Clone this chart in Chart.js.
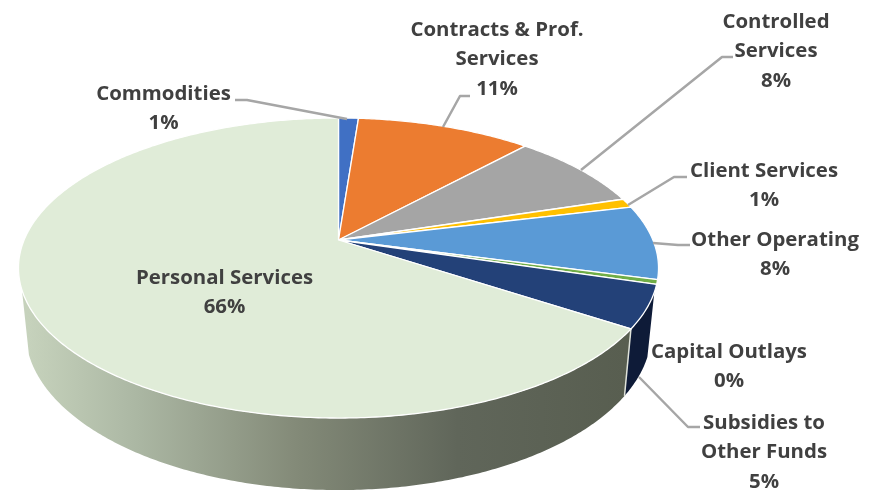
<!DOCTYPE html>
<html><head><meta charset="utf-8">
<style>html,body{margin:0;padding:0;background:#fff}canvas{display:block}</style>
<script src="https://cdn.jsdelivr.net/npm/chart.js@4/dist/chart.umd.js"></script>
</head><body><canvas id="c" width="875" height="490"></canvas>
<script>
const categories = ["Commodities","Contracts & Prof. Services","Controlled Services","Client Services","Other Operating","Capital Outlays","Subsidies to Other Funds","Personal Services"];
const shareValues = [1.2,10.6,8.4,1.0,8.0,0.49,4.6,65.71];
const topColors = ["#4070c4","#ec7c30","#a5a5a5","#ffc000","#5a9ad6","#70ad47","#234178","#e0ecd8"];
const labelLines = [["Commodities"],["Contracts & Prof.","Services"],["Controlled","Services"],["Client Services"],["Other Operating"],["Capital Outlays"],["Subsidies to","Other Funds"],["Personal Services"]];
const labelAnchors = [[163.5,94],[497,30],[776,22],[764,171],[775,240],[729,352],[764,423],[224.5,278]];
const leaders = [
 [[235,100],[247,100],[347,119]],
 [[470,96],[460,96],[443,127]],
 [[733,57],[722,57],[581,170]],
 [[687,177],[674,177],[628,205]],
 [[690,245],[678,245],[653,243]],
 [[700,427],[688,427],[639,377]]
];
// perspective of the pie's top face
const P = {x:338.5, y:240, a:314.4, b:144.8, k:0.1867};
function rim(t, r){ r = r===undefined?1:r;
  const u=r*Math.sin(t), v=-r*Math.cos(t), w=1-P.k*v;
  return [P.x+P.a*u/w, P.y+P.b*v/w];
}
function low(p){ return [P.x+(p[0]-P.x)*0.978, 1.057*p[1]+48.2]; }
const nativeTheta = a => a+Math.PI/2;
function tracePoints(ctx, pts, first){ pts.forEach((p,i)=>{ (i===0&&first)?ctx.moveTo(p[0],p[1]):ctx.lineTo(p[0],p[1]); }); }
function samples(t0,t1){ const n=Math.max(2,Math.ceil(Math.abs(t1-t0)/0.01)), out=[];
  for(let i=0;i<=n;i++) out.push(t0+(t1-t0)*i/n); return out; }

Chart.ArcElement.prototype.draw = function(ctx){
  const o=this.options, t0=nativeTheta(this.startAngle), t1=nativeTheta(this.endAngle);
  ctx.save();
  ctx.beginPath();
  ctx.moveTo(P.x,P.y);
  tracePoints(ctx, samples(t0,t1).map(t=>rim(t)), false);
  ctx.closePath();
  ctx.fillStyle=o.backgroundColor; ctx.fill();
  ctx.lineJoin='round';
  ctx.strokeStyle=o.borderColor; ctx.lineWidth=o.borderWidth; ctx.stroke();
  ctx.restore();
};

function wall(ctx, t0, t1, fill){
  const top=samples(t0,t1).map(t=>rim(t));
  ctx.beginPath();
  tracePoints(ctx, top, true);
  tracePoints(ctx, top.slice().reverse().map(low), false);
  ctx.closePath();
  ctx.fillStyle=fill; ctx.fill();
}
const pie3dPlugin = {
  id:'pie3d',
  beforeDatasetsDraw(chart){
    const ctx=chart.ctx, arcs=chart.getDatasetMeta(0).data;
    const navy=arcs[6], pers=arcs[7];
    const g=ctx.createLinearGradient(28,0,625,0);
    g.addColorStop(0,'#c6d2bc'); g.addColorStop(0.17,'#adb9a5'); g.addColorStop(0.45,'#838a78');
    g.addColorStop(0.72,'#60665a'); g.addColorStop(1,'#585e50');
    const nEnd=nativeTheta(navy.endAngle);
    ctx.save();
    wall(ctx, nativeTheta(navy.startAngle)+0.05, nEnd, '#0e1b38');
    wall(ctx, nEnd, Math.min(nativeTheta(pers.endAngle),251*Math.PI/180), g);
    const a=rim(nEnd), b=low(a);
    ctx.beginPath(); ctx.moveTo(a[0],a[1]); ctx.lineTo(b[0],b[1]);
    ctx.strokeStyle='#dfe3da'; ctx.lineWidth=1.5; ctx.stroke();
    ctx.restore();
  },
  afterDraw(chart){
    const ctx=chart.ctx;
    ctx.save();
    ctx.strokeStyle='#a6a6a6'; ctx.lineWidth=2.5; ctx.lineJoin='round';
    leaders.forEach(l=>{ ctx.beginPath(); tracePoints(ctx,l,true); ctx.stroke(); });
    ctx.fillStyle='#404040'; ctx.font='bold 20.4px "Open Sans"'; ctx.textAlign='center'; ctx.textBaseline='middle';
    categories.forEach((c,i)=>{
      const lines=labelLines[i].concat([Math.round(shareValues[i])+'%']);
      lines.forEach((s,j)=>ctx.fillText(s,labelAnchors[i][0],labelAnchors[i][1]+j*29.5));
    });
    ctx.restore();
  }
};
new Chart(document.getElementById('c'),{
  type:'pie',
  data:{labels:categories,datasets:[{data:shareValues,backgroundColor:topColors,borderColor:'#ffffff',borderWidth:1.3}]},
  options:{responsive:false,animation:false,events:[],layout:{padding:0},
    plugins:{legend:{display:false},tooltip:{enabled:false}}},
  plugins:[pie3dPlugin]
});
</script></body></html>
